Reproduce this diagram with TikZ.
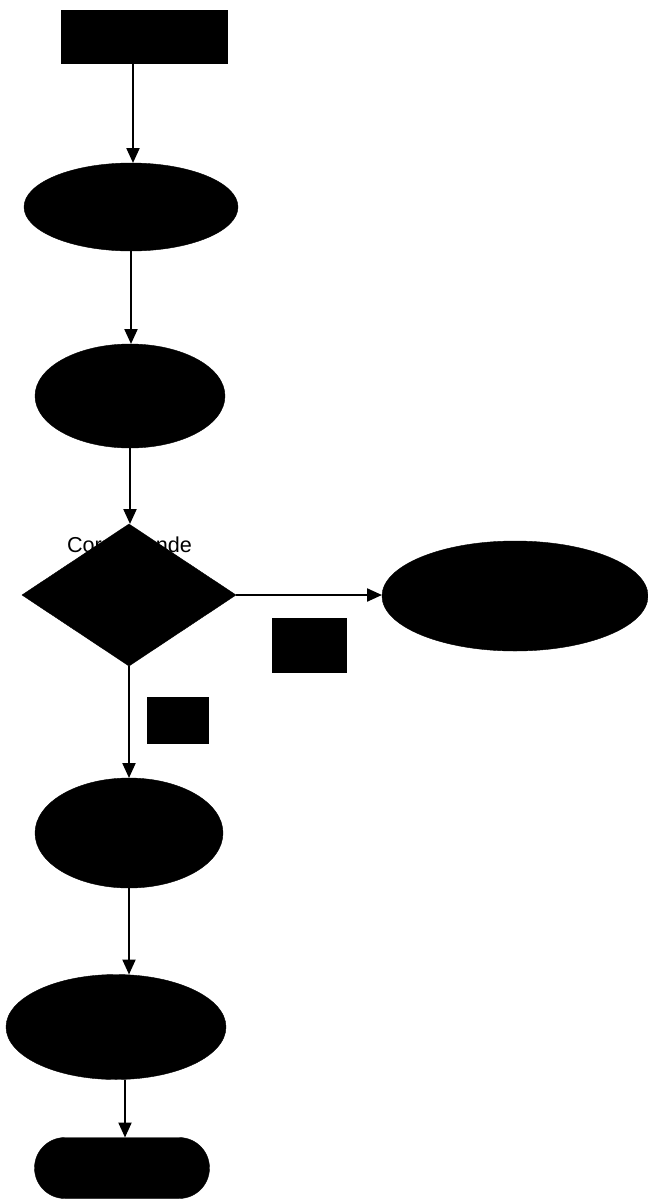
\documentclass[tikz,border=0pt]{standalone}
\usepackage{fontspec}
\setmainfont{Liberation Sans}
\usetikzlibrary{shapes.geometric,shapes.misc,arrows.meta}
\begin{document}
\begin{tikzpicture}[x=1pt,y=-1pt,
  blk/.style={fill=black,draw=black,inner sep=0pt,outer sep=0pt},
  oval/.style={blk,ellipse},
  conn/.style={line width=2.2pt,-{Triangle[length=15pt,width=13pt]}},
  lbl/.style={font=\fontsize{21.6}{24}\selectfont,anchor=base,inner sep=0pt}]
\useasboundingbox (0,0) rectangle (648,1200);
% shapes
\node[blk,rectangle,minimum width=166pt,minimum height=53pt] (start) at (144,36.5) {};
\node[oval,minimum width=214pt,minimum height=88pt] (e1) at (131,207) {};
\node[oval,minimum width=190pt,minimum height=104pt] (e2) at (130,396) {};
\node[blk,diamond,minimum width=214pt,minimum height=142pt] (d) at (129,595) {};
\node[oval,minimum width=266pt,minimum height=110pt] (e3) at (515,596) {};
\node[blk,rectangle,minimum width=74pt,minimum height=54pt] (no) at (309,645) {};
\node[blk,rectangle,minimum width=61pt,minimum height=46pt] (yes) at (178,720) {};
\node[oval,minimum width=188pt,minimum height=110pt] (e4) at (129,833) {};
\node[oval,minimum width=220pt,minimum height=105pt] (e5) at (116,1027) {};
\node[blk,rounded rectangle,minimum width=175pt,minimum height=61pt] (fin) at (122,1168) {};
% label
\node[lbl] (q) at (129.5,552) {Corresponde};
% connectors
\coordinate (s0) at (133,63);
\draw[conn] (s0) -- (s0 |- e1.north);
\draw[conn] (e1.south) -- (e1.south |- e2.north);
\draw[conn] (e2.south) -- (e2.south |- d.north);
\draw[conn] (d.east) -- (d.east -| e3.west);
\draw[conn] (d.south) -- (d.south |- e4.north);
\draw[conn] (e4.south) -- (e4.south |- e5.north);
\draw[conn] ([xshift=9pt]e5.south) -- ([xshift=9pt]e5.south |- fin.north);
\end{tikzpicture}
\end{document}
